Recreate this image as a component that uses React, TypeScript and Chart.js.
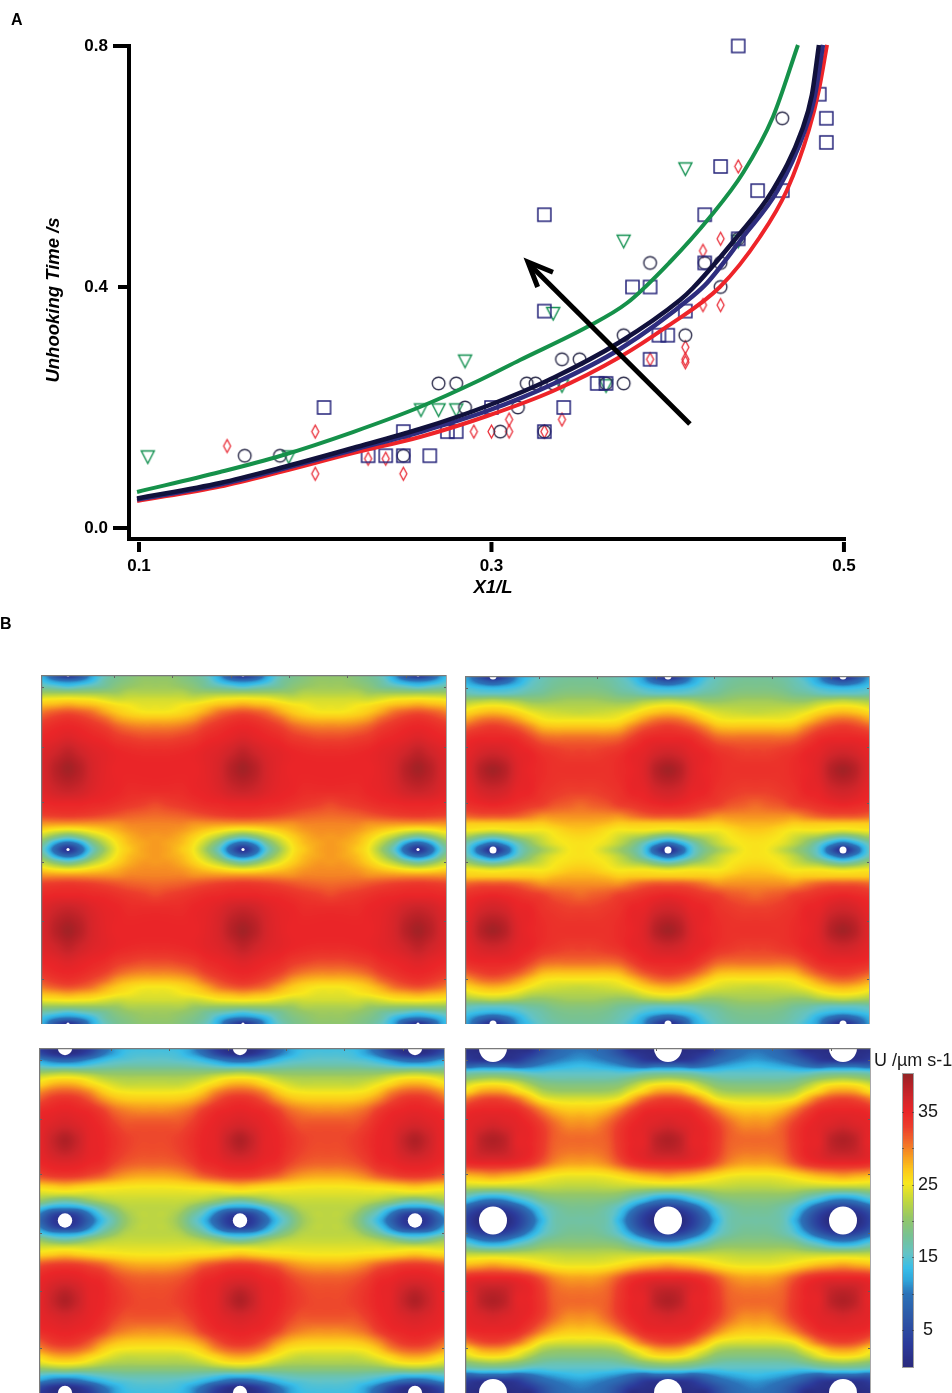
import React, { useEffect, useRef } from "react";
import { Chart, registerables } from "chart.js";

Chart.register(...registerables);

// ---------- Panel A data ----------
const xTicks = [0.1, 0.3, 0.5];
const yTicks = [0, 0.4, 0.8];
const squares = [[0.44,0.8],[0.486,0.72],[0.49,0.68],[0.49,0.64],[0.43,0.6],[0.451,0.56],[0.465,0.56],[0.421,0.52],[0.33,0.52],[0.44,0.48],[0.421,0.44],[0.38,0.4],[0.39,0.4],[0.33,0.36],[0.41,0.36],[0.395,0.32],[0.4,0.32],[0.39,0.28],[0.36,0.24],[0.365,0.24],[0.341,0.2],[0.3,0.2],[0.205,0.2],[0.25,0.16],[0.275,0.16],[0.28,0.16],[0.33,0.16],[0.23,0.12],[0.24,0.12],[0.25,0.12],[0.265,0.12]];
const circles = [[0.16,0.12],[0.18,0.12],[0.25,0.12],[0.27,0.24],[0.28,0.24],[0.285,0.2],[0.305,0.16],[0.315,0.2],[0.32,0.24],[0.325,0.24],[0.335,0.24],[0.33,0.16],[0.34,0.28],[0.35,0.28],[0.365,0.24],[0.375,0.24],[0.375,0.32],[0.39,0.44],[0.41,0.32],[0.421,0.44],[0.43,0.44],[0.43,0.4],[0.44,0.48],[0.465,0.68]];
const triangles = [[0.105,0.118],[0.185,0.118],[0.26,0.196],[0.27,0.196],[0.28,0.196],[0.285,0.277],[0.335,0.356],[0.34,0.236],[0.365,0.236],[0.375,0.476],[0.41,0.596],[0.44,0.476]];
const diamonds = [[0.15,0.136],[0.2,0.16],[0.2,0.09],[0.23,0.115],[0.24,0.115],[0.25,0.09],[0.29,0.16],[0.3,0.16],[0.31,0.18],[0.31,0.16],[0.34,0.18],[0.33,0.16],[0.39,0.28],[0.41,0.3],[0.41,0.28],[0.41,0.275],[0.42,0.37],[0.42,0.46],[0.43,0.48],[0.43,0.37],[0.44,0.6]];
const greenCurve = [[0.0989,0.0598],[0.146,0.0929],[0.18,0.1195],[0.2214,0.1593],[0.2594,0.2008],[0.2935,0.2456],[0.3162,0.2788],[0.3542,0.3336],[0.3769,0.3734],[0.4013,0.4415],[0.424,0.5162],[0.4427,0.5892],[0.4597,0.6822],[0.4739,0.8017]];
const blackCurve = [[0.0989,0.049],[0.146,0.0747],[0.18,0.0996],[0.2214,0.1328],[0.2594,0.1643],[0.2975,0.2025],[0.3349,0.249],[0.3729,0.3087],[0.407,0.3784],[0.4143,0.3983],[0.4393,0.483],[0.4597,0.561],[0.4762,0.6606],[0.4818,0.7187],[0.4858,0.8017]];
const navyCurve = [[0.0989,0.0473],[0.146,0.0722],[0.18,0.0971],[0.2214,0.1295],[0.2594,0.1593],[0.2975,0.1942],[0.3349,0.239],[0.3729,0.2971],[0.4143,0.3851],[0.4223,0.4066],[0.4427,0.483],[0.4625,0.561],[0.4779,0.6606],[0.4836,0.7187],[0.4881,0.8017]];
const redCurve = [[0.0989,0.0448],[0.146,0.0689],[0.18,0.0929],[0.2214,0.1245],[0.2594,0.151],[0.2975,0.1859],[0.3349,0.2274],[0.3729,0.2838],[0.4001,0.3353],[0.4296,0.4],[0.4523,0.483],[0.4677,0.561],[0.4801,0.6606],[0.4858,0.727],[0.4904,0.8017]];
const arrowShaft = [[0.4126,0.1726],[0.3225,0.435]];
const arrowHead = [[0.3349,0.4245],[0.3207,0.4415],[0.3262,0.4]];

// ---------- Panel B data: velocity (um/s) on a quarter cell between posts ----------
const cellColumns = [0, 0.069, 0.137, 0.211, 0.28, 0.349, 0.429, 0.5];
const cellRows = [0, 0.034, 0.069, 0.103, 0.138, 0.172, 0.212, 0.252, 0.298, 0.361, 0.441, 0.539, 0.659, 0.739, 0.802, 0.848, 0.888, 0.928, 0.963, 1];
const cellsPanel1 = [
  [2,6,12,16,18,19,20,20],
  [10,11,13.5,17,18.5,19.5,20.5,20.5],
  [15,16,17,18,19.5,20.5,21,21],
  [21,21,21,21,21,22,22,22],
  [25.5,25.3,25,24,23.3,23.5,23.5,23.5],
  [28.5,28,27.5,26.5,25.5,25,24.3,24.3],
  [32,31.5,30.5,28.5,27,26,25.3,25.2],
  [34,33.5,32.5,31,29,28,27.5,27.5],
  [35,34.7,34,33,31.5,30.5,30,30],
  [36,35.5,35,34.5,33.5,33,32.5,32.5],
  [38,37,36,35.5,35,34.7,34.5,34.5],
  [39.5,38.5,36.5,35.5,35,35,35,35],
  [37.5,37,36,35.3,35,34.5,34.5,34.5],
  [35,35,34.7,34.5,34,33.5,33,32.5],
  [33.5,33.3,33,32.5,32,31.5,31.2,31],
  [29.5,29.5,29.5,29.5,29.5,30,30,30],
  [24.5,25,26,27,28,29,29.5,29.5],
  [17,19,22,24.5,26.5,28,29,29],
  [9,12,18,22.5,25.5,27.5,28.5,29],
  [2,8,15.5,21,25,27,28.5,29],
];
const cellsPanel2 = [
  [1,5,11,14,16,17,17.5,17.5],
  [7,9,12,15,16.5,17.5,18,18],
  [13,13.5,14.5,16,17,18,18.5,18.5],
  [16,16,16.5,17.5,18,19,19.5,19.5],
  [22,21.5,21,20,20,20.5,21,21],
  [25.3,25,24,22.5,22,22,22,22],
  [28,27.5,26.5,25,24,23.5,23.2,23],
  [31,30.5,29,27,25.5,25,25,25],
  [33.5,33,32,30,28,27.5,27.5,27.5],
  [35,35,34.5,33,31.5,31,31,31],
  [37,36.5,35.5,35,34,33.5,33,33],
  [39.5,38.5,36,35,34.5,34,34,34],
  [37,36.5,35.3,35,34,33.5,33,33],
  [35,34.7,34.2,33.5,33,32,31.5,31],
  [32,32,31.5,30.5,29.5,29.5,29.5,29.5],
  [27,27,27,27,26.8,27.5,28,28],
  [24,24.5,25,25,25,25.7,26.7,27],
  [16.5,18,20.5,22,23.5,25,25.7,26],
  [9,12,16,20,22.5,24.3,25.3,25.5],
  [1,7,14.5,18.5,21,23,25,25.5],
];
const cellsPanel3 = [
  [1,1,3,8,11.5,13.5,14,14],
  [1,2,5,9.5,12,14,14.5,14.5],
  [8,9,11,13,14.5,15,15.5,15.5],
  [14,14,15,16,16.5,17,17,17],
  [21,20.5,20,19.5,19.5,19.5,19.5,19.5],
  [25.3,25,24,22.5,21.7,21.5,21.5,21.5],
  [28.5,28,26.5,25,23.8,23,23,23],
  [31.5,31,29.5,27,25.5,25,24.8,24.8],
  [34,33.5,32,29.5,27.8,27,26.8,26.8],
  [35.3,35,34.5,33,31,30,29.5,29.5],
  [36.5,36,35.3,34.5,33,32,32,32],
  [39,37.5,35.5,35,34,33,32.5,32.5],
  [36,35.7,35,34.5,33,32,31.5,31.5],
  [33.5,33.3,32.5,31.5,30,29,28.5,28.5],
  [27.5,27,26.5,26,25.8,25.5,25.3,25.3],
  [23.5,23.5,23.5,24,24,24,24,24],
  [17,18,20,21.5,22.5,23,23,23],
  [11,11.5,14,17.5,20,22,22.5,22.5],
  [3,5,10,15,18,21,22.5,22.5],
  [1,3,8,13.5,17,20.5,22.3,22.5],
];
const cellsPanel4 = [
  [0,0,1,1,5,8,9.5,10],
  [0,1,1.5,3,6,8.5,10,10.5],
  [2,2,3,6,8.5,10,11,11.5],
  [9,9,8,9.5,11,12,13,13.5],
  [16,16,15.5,14.5,14.5,15,15,15],
  [21,20.5,19.5,18,17,16.5,16.5,16.5],
  [25.7,25.3,24,21.5,19.5,19,18.8,18.8],
  [29,28.5,26.5,24.5,22,21,20.8,20.8],
  [33,32.5,31,28,25.3,24.3,24,24],
  [35,35,34.5,32.5,30,28,27,27],
  [36.5,36,35.5,34.7,33,31,29.5,29.5],
  [39,38,35.5,35,33.5,31.5,31,31],
  [35.5,35.5,35,34,32,30,29,29],
  [29,28.5,28,27,26,25.2,24.8,24.8],
  [23,23,23,23,23,22.8,22.5,22.5],
  [15,15.5,17,18.5,20,20.5,20.5,20.5],
  [9,10,12.5,15,17.5,18.5,19,19],
  [3,4,7,11.5,15,17,18,18],
  [0,1,4,9,14,16.5,17.5,17.5],
  [0,0,3,8,13,16.5,17.2,17.2],
];
const postColumns = [0, 1, 2];
const postRows = [0, 1, 2];
const colourTicks = [5, 15, 25, 35];
const colourStops: [number, string][] = [
  [0,"#2a2a7e"],[3,"#2b3a9a"],[7,"#2d5aa8"],[10,"#2b72b8"],[12,"#2fa8dc"],[13.5,"#38bde8"],[15.5,"#62c3c6"],[18,"#78c292"],[20.5,"#95c766"],[23,"#c6d93a"],[25.2,"#f8e71c"],[27,"#fcc91a"],[29,"#f79a20"],[31,"#f1682a"],[33,"#ec3d2c"],[35,"#ea2528"],[37,"#cf252a"],[39,"#b02026"],[41,"#7e2a26"],
];

// ---------- helpers ----------
const SANS = '"Liberation Sans", Arial, sans-serif';
const toPts = (a: number[][]) => a.map(([x, y]) => ({ x, y }));

function hex(c: string) { return [1, 3, 5].map((i) => parseInt(c.slice(i, i + 2), 16)); }
const LUT: number[][] = [];
for (let i = 0; i <= 420; i++) {
  const v = i / 10;
  let k = 0;
  while (k < colourStops.length - 2 && v > colourStops[k + 1][0]) k++;
  const [a, ca] = colourStops[k];
  const [b, cb] = colourStops[k + 1];
  const t = Math.min(1, Math.max(0, (v - a) / (b - a)));
  const A = hex(ca), B = hex(cb);
  LUT.push([0, 1, 2].map((j) => A[j] + (B[j] - A[j]) * t));
}
const colourOf = (v: number) => LUT[Math.max(0, Math.min(420, Math.round(v * 10)))];

function smooth(ts: number[], vs: number[], t: number) {
  let i = 0;
  while (i < ts.length - 2 && t > ts[i + 1]) i++;
  const h = ts[i + 1] - ts[i];
  const s = Math.max(0, Math.min(1, (t - ts[i]) / h));
  const m0 = i > 0 ? (vs[i + 1] - vs[i - 1]) / (ts[i + 1] - ts[i - 1]) : 0;
  const m1 = i < ts.length - 2 ? (vs[i + 2] - vs[i]) / (ts[i + 2] - ts[i]) : 0;
  const s2 = s * s, s3 = s2 * s;
  return (2 * s3 - 3 * s2 + 1) * vs[i] + (s3 - 2 * s2 + s) * h * m0 + (-2 * s3 + 3 * s2) * vs[i + 1] + (s3 - s2) * h * m1;
}

const heatPlugin = {
  id: "heat",
  beforeDatasetsDraw(chart: any, _a: any, opts: any) {
    const { ctx, chartArea: ar, scales } = chart;
    const w = Math.round(ar.right - ar.left), h = Math.round(ar.bottom - ar.top);
    const off = document.createElement("canvas");
    off.width = w; off.height = h;
    const oc = off.getContext("2d")!;
    const img = oc.createImageData(w, h);
    const cols: number[][] = [];
    for (let px = 0; px < w; px++) {
      const xv = scales.x.getValueForPixel(ar.left + px + 0.5);
      const fx = Math.abs(xv - Math.round(xv));
      cols.push(opts.cells.map((r: number[]) => smooth(cellColumns, r, fx)));
    }
    for (let py = 0; py < h; py++) {
      const yv = scales.y.getValueForPixel(ar.top + py + 0.5);
      const fy = Math.max(0, Math.min(1, yv <= 1 ? yv : 2 - yv));
      for (let px = 0; px < w; px++) {
        const c = colourOf(smooth(cellRows, cols[px], fy));
        const o = (py * w + px) * 4;
        img.data[o] = c[0]; img.data[o + 1] = c[1]; img.data[o + 2] = c[2]; img.data[o + 3] = 255;
      }
    }
    oc.putImageData(img, 0, 0);
    ctx.drawImage(off, ar.left, ar.top);
  },
  afterDatasetsDraw(chart: any, _a: any, opts: any) {
    const { ctx, chartArea: ar, scales } = chart;
    ctx.save();
    ctx.strokeStyle = "#5f5f5f"; ctx.lineWidth = 1;
    opts.xMarks.forEach((v: number) => {
      const x = Math.round(scales.x.getPixelForValue(v)) + 0.5;
      ctx.beginPath(); ctx.moveTo(x, ar.top); ctx.lineTo(x, ar.top + 3); ctx.stroke();
    });
    opts.yMarks.forEach((v: number) => {
      const y = Math.round(scales.y.getPixelForValue(v)) + 0.5;
      ctx.beginPath(); ctx.moveTo(ar.left, y); ctx.lineTo(ar.left + 3, y);
      ctx.moveTo(ar.right, y); ctx.lineTo(ar.right - 3, y); ctx.stroke();
    });
    ctx.strokeStyle = "#7a7a7a"; ctx.lineWidth = 1.5;
    ctx.beginPath(); ctx.moveTo(ar.left + 0.5, ar.bottom); ctx.lineTo(ar.left + 0.5, ar.top + 0.5); ctx.lineTo(ar.right, ar.top + 0.5); ctx.stroke();
    ctx.strokeStyle = "#a8a8a8"; ctx.lineWidth = 1;
    ctx.beginPath(); ctx.moveTo(ar.right - 0.5, ar.top); ctx.lineTo(ar.right - 0.5, ar.bottom); ctx.stroke();
    ctx.restore();
  },
};

const colourBarPlugin = {
  id: "colourBar",
  beforeDatasetsDraw(chart: any) {
    const { ctx, chartArea: ar, scales } = chart;
    ctx.save();
    for (let py = Math.round(ar.top); py < ar.bottom; py++) {
      const c = colourOf(scales.y.getValueForPixel(py + 0.5));
      ctx.fillStyle = `rgb(${c[0]},${c[1]},${c[2]})`;
      ctx.fillRect(ar.left, py, ar.right - ar.left, 1);
    }
    ctx.strokeStyle = "#a0a0a0"; ctx.lineWidth = 1;
    ctx.strokeRect(ar.left + 0.5, ar.top + 0.5, ar.right - ar.left - 1, ar.bottom - ar.top - 1);
    ctx.strokeStyle = "rgba(50,50,50,0.55)";
    for (let v = 5; v <= 35; v += 5) {
      const y = Math.round(scales.y.getPixelForValue(v)) + 0.5;
      ctx.beginPath(); ctx.moveTo(ar.left, y); ctx.lineTo(ar.left + 2, y);
      ctx.moveTo(ar.right, y); ctx.lineTo(ar.right - 2, y); ctx.stroke();
    }
    ctx.restore();
  },
};

const axesPlugin = {
  id: "axesMarks",
  afterDraw(chart: any) {
    const { ctx, chartArea: ar, scales } = chart;
    ctx.save();
    ctx.strokeStyle = "#000"; ctx.lineWidth = 4;
    xTicks.forEach((v) => {
      const x = scales.x.getPixelForValue(v);
      ctx.beginPath(); ctx.moveTo(x, ar.bottom + 3); ctx.lineTo(x, ar.bottom + 13); ctx.stroke();
    });
    yTicks.forEach((v) => {
      const y = scales.y.getPixelForValue(v);
      ctx.beginPath(); ctx.moveTo(v === 0.4 ? ar.left - 11 : ar.left - 16, y); ctx.lineTo(ar.left, y); ctx.stroke();
    });
    ctx.fillStyle = "#000";
    ctx.font = `italic bold 18.5px ${SANS}`;
    ctx.textAlign = "center"; ctx.textBaseline = "middle";
    ctx.fillText("X1/L", 493, 588);
    ctx.translate(54, 300); ctx.rotate(-Math.PI / 2);
    ctx.fillText("Unhooking Time /s", 0, 0);
    ctx.restore();
  },
};

function marker(w: number, h: number, draw: (c: CanvasRenderingContext2D) => void) {
  const cv = document.createElement("canvas");
  cv.width = w; cv.height = h;
  draw(cv.getContext("2d")!);
  return cv;
}
function makeMarkers() {
  const square = marker(17, 17, (c) => {
    c.strokeStyle = "#24237a"; c.lineWidth = 1.5;
    c.strokeRect(2, 2, 13, 13);
  });
  const circle = marker(17, 17, (c) => {
    c.strokeStyle = "#30304e"; c.lineWidth = 1.4;
    c.beginPath(); c.arc(8.5, 8.5, 6.3, 0, Math.PI * 2); c.stroke();
  });
  const tri = marker(17, 17, (c) => {
    c.strokeStyle = "#129050"; c.lineWidth = 1.4;
    c.beginPath(); c.moveTo(2, 2.5); c.lineTo(15, 2.5); c.lineTo(8.5, 15); c.closePath(); c.stroke();
  });
  const dia = marker(11, 17, (c) => {
    c.strokeStyle = "#e92a35"; c.lineWidth = 1.3;
    c.beginPath(); c.moveTo(5.5, 2); c.lineTo(9, 8.5); c.lineTo(5.5, 15); c.lineTo(2, 8.5); c.closePath(); c.stroke();
  });
  return { square, circle, tri, dia };
}

const panels = [
  { cells: cellsPanel1, left: 41, top: 675, w: 406, h: 349, off: 27, r: 1.6 },
  { cells: cellsPanel2, left: 465, top: 676, w: 405, h: 348, off: 28, r: 3.5 },
  { cells: cellsPanel3, left: 39, top: 1048, w: 406, h: 345, off: 26, r: 7.2 },
  { cells: cellsPanel4, left: 465, top: 1048, w: 406, h: 345, off: 28, r: 14 },
];
const PITCH = 175;
const xMarkValues = [0.263, 0.596, 0.929, 1.263, 1.596, 1.929];
const yMarkValues = [0.07, 0.41, 0.73, 1.07, 1.41, 1.74];

export default function App() {
  const aRef = useRef<HTMLCanvasElement>(null);
  const panelRefs = useRef<(HTMLCanvasElement | null)[]>([]);
  const barRef = useRef<HTMLCanvasElement>(null);

  useEffect(() => {
    const m = makeMarkers();
    const line = (data: number[][], color: string, width: number) => ({
      type: "line" as const, data: toPts(data), borderColor: color, borderWidth: width,
      pointRadius: 0, cubicInterpolationMode: "monotone", fill: false, clip: false as any, showLine: true,
    });
    const pts = (data: number[][], style: any) => ({
      type: "scatter" as const, data: toPts(data), pointStyle: style, pointRadius: 8, showLine: false, clip: false as any,
    });
    const charts: Chart[] = [];
    charts.push(new Chart(aRef.current!, {
      type: "scatter",
      data: {
        datasets: [
          { ...line(arrowHead, "#000", 5), cubicInterpolationMode: "default", tension: 0, borderJoinStyle: "miter" },
          { ...line(arrowShaft, "#000", 5), cubicInterpolationMode: "default", tension: 0 },
          line(blackCurve, "#11113c", 4.5),
          line(navyCurve, "#2e2d7f", 4.5),
          line(redCurve, "#ee2429", 4),
          line(greenCurve, "#15914a", 4),
          pts(squares, m.square),
          pts(circles, m.circle),
          pts(triangles, m.tri),
          pts(diamonds, m.dia),
        ] as any,
      },
      options: {
        animation: false, responsive: false,
        layout: { autoPadding: false, padding: { top: 46, right: 107, left: 0, bottom: 0 } },
        plugins: { legend: { display: false }, tooltip: { enabled: false } },
        scales: {
          x: {
            type: "linear", min: 0.09433, max: 0.5006,
            grid: { display: false, drawTicks: false },
            border: { display: true, color: "#000", width: 4 },
            afterBuildTicks: (s: any) => { s.ticks = xTicks.map((value) => ({ value })); },
            afterFit: (s: any) => { s.height = 81; },
            ticks: { padding: 17, color: "#000", font: { family: SANS, weight: "bold", size: 17 }, callback: (v: any) => Number(v).toFixed(1), maxRotation: 0, autoSkip: false },
          },
          y: {
            type: "linear", min: -0.01826, max: 0.8,
            grid: { display: false, drawTicks: false },
            border: { display: true, color: "#000", width: 4 },
            afterBuildTicks: (s: any) => { s.ticks = yTicks.map((value) => ({ value })); },
            afterFit: (s: any) => { s.width = 129; },
            ticks: { padding: 21, color: "#000", font: { family: SANS, weight: "bold", size: 17 }, callback: (v: any) => Number(v).toFixed(1), autoSkip: false },
          },
        },
      } as any,
      plugins: [axesPlugin],
    }));

    panels.forEach((p, i) => {
      const holes = postRows.flatMap((y) => postColumns.map((x) => ({ x, y })));
      charts.push(new Chart(panelRefs.current[i]!, {
        type: "scatter",
        data: { datasets: [{ data: holes, pointRadius: p.r, pointBackgroundColor: "#fff", pointBorderWidth: 0 }] },
        options: {
          animation: false, responsive: false,
          layout: { autoPadding: false, padding: 0 },
          plugins: {
            legend: { display: false }, tooltip: { enabled: false },
            heat: { cells: p.cells, xMarks: xMarkValues, yMarks: yMarkValues },
          },
          scales: {
            x: { type: "linear", display: false, min: -p.off / PITCH, max: (p.w - p.off) / PITCH },
            y: { type: "linear", display: false, reverse: true, min: 0, max: 2 },
          },
        } as any,
        plugins: [heatPlugin],
      }));
    });

    charts.push(new Chart(barRef.current!, {
      type: "scatter",
      data: { datasets: [{ data: [] }] },
      options: {
        animation: false, responsive: false,
        layout: { autoPadding: false, padding: { top: 13, bottom: 12, left: 12, right: 0 } },
        plugins: { legend: { display: false }, tooltip: { enabled: false } },
        scales: {
          x: { type: "linear", display: false, min: 0, max: 1 },
          y: {
            type: "linear", position: "right", min: -0.23, max: 40.37,
            grid: { display: false, drawTicks: false }, border: { display: false },
            afterBuildTicks: (s: any) => { s.ticks = colourTicks.map((value) => ({ value })); },
            afterFit: (s: any) => { s.width = 38; s.paddingTop = 0; s.paddingBottom = 0; },
            ticks: { padding: 4, crossAlign: "center", color: "#1a1a1a", font: { family: SANS, size: 18 }, autoSkip: false },
          },
        },
      } as any,
      plugins: [colourBarPlugin],
    }));
    return () => charts.forEach((c) => c.destroy());
  }, []);

  const abs = (left: number, top: number): React.CSSProperties => ({ position: "absolute", left, top, display: "block" });
  const label: React.CSSProperties = { position: "absolute", fontFamily: SANS, color: "#000", lineHeight: 1, whiteSpace: "nowrap" };
  return (
    <div style={{ position: "absolute", left: 0, top: 0, width: 952, height: 1393, overflow: "hidden", background: "#fff" }}>
      <canvas ref={aRef} width={952} height={620} style={abs(0, 0)} />
      {panels.map((p, i) => (
        <canvas key={i} ref={(el) => { panelRefs.current[i] = el; }} width={p.w} height={p.h} style={abs(p.left, p.top)} />
      ))}
      <canvas ref={barRef} width={62} height={320} style={abs(890, 1060)} />
      <div style={{ ...label, left: 11, top: 12, fontWeight: "bold", fontSize: 16 }}>A</div>
      <div style={{ ...label, left: 0, top: 616, fontWeight: "bold", fontSize: 16 }}>B</div>
      <div style={{ ...label, left: 874, top: 1051, fontSize: 18, color: "#1a1a1a" }}>U /µm s-1</div>
    </div>
  );
}
